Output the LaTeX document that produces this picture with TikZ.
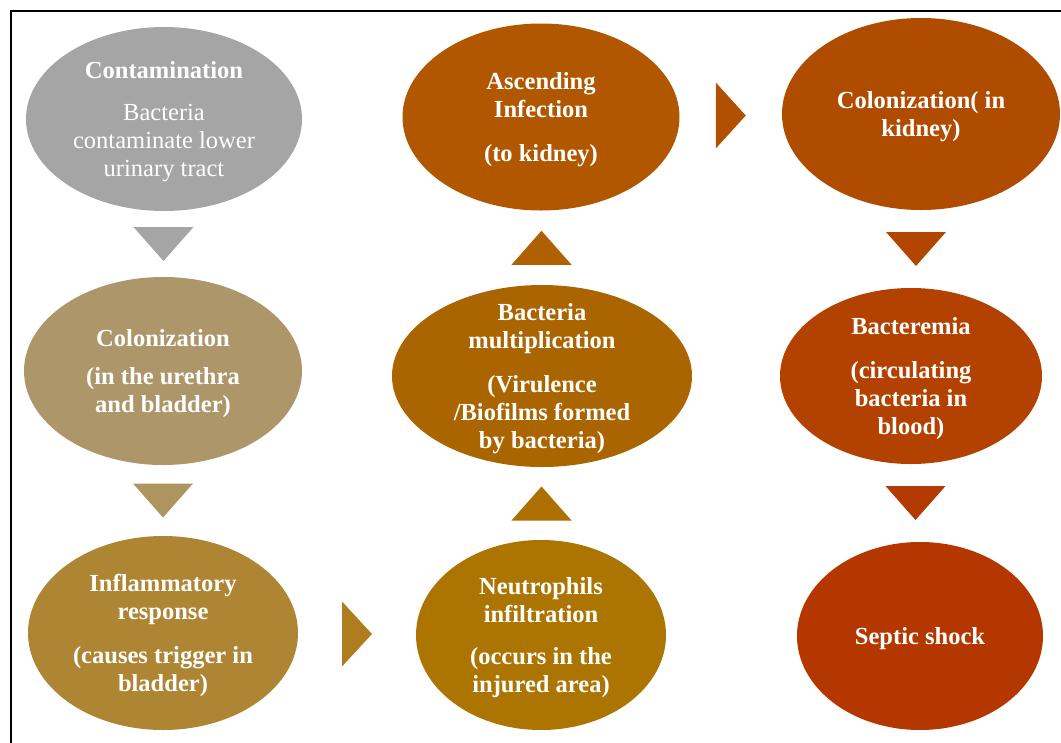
\documentclass[tikz,border=0pt]{standalone}
\usepackage{fontspec}
\setmainfont{Liberation Serif}
\usetikzlibrary{shapes.geometric,calc}

\tikzset{every picture/.style={line width=0.75pt}}

\begin{document}
\begin{tikzpicture}[x=0.75pt,y=0.75pt,yscale=-1,xscale=1,
    blob/.style 2 args={ellipse,draw opacity=0,inner sep=0pt,minimum width=#1*0.75pt,minimum height=#2*0.75pt},
    lbl/.style={text=white,align=center,inner sep=0.75pt,yshift=-2pt,font=\fontsize{18.4}{21}\selectfont\bfseries}]
\useasboundingbox (0,0) rectangle (1061,743);

%Straight Lines (frame)
\draw [line width=1.5]  (11,743) -- (11,11) -- (1061,11) ;

%Shape: Ellipse
\node [blob={276}{184}, fill={rgb, 255:red, 165; green, 165; blue, 165 }] (contam) at (164,119) {};
%Shape: Ellipse
\node [blob={278}{188}, fill={rgb, 255:red, 173; green, 151; blue, 106 }] (colon) at (163,371) {};
%Shape: Ellipse
\node [blob={270}{194}, fill={rgb, 255:red, 174; green, 133; blue, 51 }] (inflam) at (163,633) {};
%Shape: Ellipse
\node [blob={250}{190}, fill={rgb, 255:red, 172; green, 116; blue, 0 }] (neutro) at (541,635) {};
%Shape: Ellipse
\node [blob={300}{182}, fill={rgb, 255:red, 171; green, 101; blue, 0 }] (multi) at (542,376) {};
%Shape: Ellipse
\node [blob={277}{187}, fill={rgb, 255:red, 176; green, 87; blue, 0 }] (ascend) at (541,117) {};
%Shape: Ellipse
\node [blob={278}{192}, fill={rgb, 255:red, 176; green, 76; blue, 0 }] (kidney) at (921,114) {};
%Shape: Ellipse
\node [blob={262}{176}, fill={rgb, 255:red, 179; green, 65; blue, 0 }] (bactm) at (911,376) {};
%Shape: Ellipse
\node [blob={246}{188}, fill={rgb, 255:red, 181; green, 55; blue, 0 }] (septic) at (920,636) {};

%Shape: Triangle (down)
\fill [fill={rgb, 255:red, 165; green, 165; blue, 165 }]  ($(contam.south)!0.5!(colon.north)$) ++(-30,-17) -- ++(60,0) -- ++(-30,34) -- cycle ;
%Shape: Triangle (down)
\fill [fill={rgb, 255:red, 174; green, 149; blue, 95 }]  ($(colon.south)!0.5!(inflam.north)$) ++(-30,-17) -- ++(60,0) -- ++(-30,34) -- cycle ;
%Shape: Triangle (right)
\fill [fill={rgb, 255:red, 174; green, 125; blue, 30 }]  ($(inflam.east)!0.5!(neutro.west)$) ++(-15,-32.5) -- ++(30,32.5) -- ++(-30,32.5) -- cycle ;
%Shape: Triangle (up)
\fill [fill={rgb, 255:red, 172; green, 111; blue, 0 }]  ($(neutro.north)!0.5!(multi.south)$) ++(-30,17) -- ++(60,0) -- ++(-30,-34) -- cycle ;
%Shape: Triangle (up)
\fill [fill={rgb, 255:red, 175; green, 96; blue, 0 }]  ($(multi.north)!0.5!(ascend.south)$) ++(-30,17) -- ++(60,0) -- ++(-30,-34) -- cycle ;
%Shape: Triangle (right)
\fill [fill={rgb, 255:red, 176; green, 80; blue, 0 }]  ($(ascend.east)!0.5!(kidney.west)$) ++(-15,-33) -- ++(30,33) -- ++(-30,33) -- cycle ;
%Shape: Triangle (down)
\fill [fill={rgb, 255:red, 178; green, 70; blue, 0 }]  ($(kidney.south)!0.5!(bactm.north)$) ++(-30,-17) -- ++(60,0) -- ++(-30,34) -- cycle ;
%Shape: Triangle (down)
\fill [fill={rgb, 255:red, 179; green, 58; blue, 0 }]  ($(bactm.south)!0.5!(septic.north)$) ++(-30,-17) -- ++(60,0) -- ++(-30,34) -- cycle ;

% Text Node
\node [lbl] (contamtxt) at (contam) {Contamination\\[10pt]\textmd{Bacteria}\\\textmd{contaminate lower}\\\textmd{urinary tract}};
% Text Node
\node [lbl] (colontxt) at (colon) {Colonization\\[8pt](in the urethra\\and bladder)};
% Text Node
\node [lbl] (inflamtxt) at (inflam) {Inflammatory\\response\\[12pt](causes trigger in\\bladder)};
% Text Node
\node [lbl] (neutrotxt) at (neutro) {Neutrophils\\infiltration\\[10pt](occurs in the\\injured area)};
% Text Node
\node [lbl] (multitxt) at (multi) {Bacteria\\multiplication\\[12pt](Virulence\\/Biofilms formed\\by bacteria)};
% Text Node
\node [lbl] (ascendtxt) at (ascend) {Ascending\\Infection\\[12pt](to kidney)};
% Text Node
\node [lbl] (kidneytxt) at (kidney) {Colonization( in\\kidney)};
% Text Node
\node [lbl] (bactmtxt) at (bactm) {Bacteremia\\[12pt](circulating\\bacteria in\\blood)};
% Text Node
\node [lbl] (septictxt) at (septic) {Septic shock};

\end{tikzpicture}
\end{document}
